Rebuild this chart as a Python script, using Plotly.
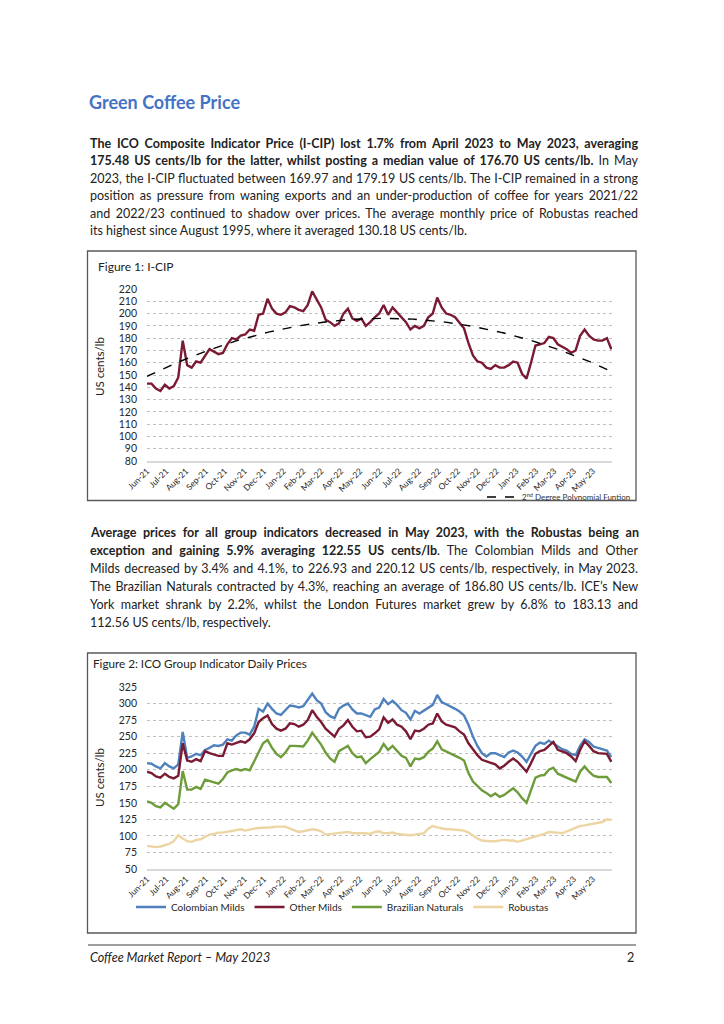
import numpy as np
import pandas as pd
import plotly.graph_objects as go

W, H = 724, 1024


def px(x):
    return x / W


def py(y):
    return 1 - y / H


# ---------------- data (weekly readings from the reference) ----------------
week_start = "2021-06-01"
n_weeks = 105
dates = pd.date_range(week_start, periods=n_weeks, freq="7D")

icip = [143, 143, 139, 137, 142, 139, 141, 148, 178, 158, 156, 161, 160, 166, 171,
        169, 167, 168, 175, 180, 179, 182, 183, 187, 186, 199, 200, 212, 204, 200,
        199, 201, 206, 205, 203, 202, 207, 218, 212, 205, 195, 193, 190, 192, 200,
        204, 196, 194, 196, 190, 193, 197, 200, 207, 199, 205, 201, 197, 193, 187,
        190, 188, 190, 197, 200, 213, 205, 200, 199, 197, 192, 188, 176, 166, 161,
        160, 156, 155, 158, 156, 156, 158, 161, 160, 151, 147, 160, 174, 175, 176,
        181, 180, 175, 173, 171, 168, 170, 182, 187, 182, 179, 178, 178, 180, 171]

colombian = [210, 209, 205, 202, 210, 205, 202, 208, 257, 218, 220, 224, 222, 230, 233,
             237, 236, 238, 246, 244, 252, 256, 256, 253, 265, 292, 288, 300, 292, 285,
             283, 290, 297, 296, 294, 296, 305, 315, 305, 300, 287, 281, 278, 292, 297,
             300, 291, 285, 285, 282, 280, 291, 294, 307, 299, 304, 298, 290, 286, 276,
             289, 285, 289, 294, 298, 313, 302, 299, 296, 292, 288, 282, 268, 250, 236,
             225, 220, 225, 225, 222, 219, 226, 229, 226, 220, 212, 224, 236, 241, 239,
             244, 240, 235, 231, 229, 224, 222, 236, 246, 242, 235, 233, 231, 229, 219]

other_milds = [197, 195, 190, 188, 194, 189, 187, 191, 240, 214, 212, 216, 213, 228, 225,
               223, 221, 221, 240, 238, 241, 243, 241, 246, 255, 272, 278, 282, 269, 262,
               259, 262, 270, 269, 265, 268, 275, 290, 280, 272, 262, 256, 250, 262, 267,
               275, 265, 258, 259, 249, 250, 255, 261, 279, 271, 276, 268, 265, 258, 246,
               259, 258, 262, 268, 270, 285, 273, 268, 266, 264, 258, 253, 240, 230, 222,
               215, 213, 211, 208, 202, 206, 212, 217, 212, 204, 197, 210, 224, 228, 230,
               236, 242, 230, 227, 225, 220, 213, 230, 243, 236, 228, 225, 224, 224, 212]

brazilian = [152, 150, 145, 143, 150, 145, 141, 148, 198, 170, 170, 174, 171, 185, 183,
             180, 179, 186, 196, 199, 201, 199, 201, 199, 213, 228, 240, 245, 233, 224,
             219, 226, 236, 236, 236, 235, 244, 256, 247, 238, 226, 217, 212, 228, 232,
             236, 225, 219, 220, 210, 216, 222, 227, 239, 230, 236, 228, 221, 218, 205,
             217, 216, 219, 227, 232, 243, 231, 228, 225, 222, 218, 214, 195, 182, 176,
             169, 165, 160, 164, 159, 162, 167, 172, 166, 157, 150, 168, 188, 191, 192,
             200, 203, 194, 191, 189, 185, 182, 197, 205, 197, 191, 189, 189, 189, 180]

robustas = [85, 84, 83, 84, 86, 88, 92, 101, 96, 92, 91, 94, 95, 99, 102,
            103, 105, 105, 106, 107, 108, 110, 108, 110, 111, 112, 112, 112, 113, 114,
            114, 114, 111, 109, 106, 107, 108, 110, 109, 107, 102, 103, 104, 105, 106,
            106, 104, 104, 105, 104, 103, 106, 107, 104, 104, 105, 103, 102, 101, 101,
            102, 103, 104, 111, 115, 113, 111, 110, 110, 109, 109, 108, 105, 100, 96,
            93, 92, 92, 92, 93, 94, 93, 93, 91, 93, 94, 96, 99, 100, 103,
            106, 106, 105, 104, 107, 109, 112, 115, 116, 117, 118, 120, 121, 125, 124]

group_names = ["Colombian Milds", "Other Milds", "Brazilian Naturals", "Robustas"]
group_values = [colombian, other_milds, brazilian, robustas]
group_colors = ["#4F81BD", "#7A1A33", "#6E9C3A", "#EDD5A3"]

month_ticks = pd.date_range("2021-06-01", "2023-05-01", freq="MS")
month_labels = [d.strftime("%b-%y") for d in month_ticks]

x_start, x_end = "2021-06-01", "2023-05-31"

# 2nd degree polynomial trend of the I-CIP (as in the original chart)
day_idx = np.array([(d - dates[0]).days for d in dates], dtype=float)
coef = np.polyfit(day_idx, np.array(icip, dtype=float), 2)
trend_dates = pd.date_range(x_start, x_end, freq="3D")
trend_days = np.array([(d - dates[0]).days for d in trend_dates], dtype=float)
trend_vals = np.polyval(coef, trend_days)

# ---------------- figure ----------------
BODY = "Lato"
CHART = "Lato"
TXT = "#222222"

fig = go.Figure()

fig.add_trace(go.Scatter(x=dates, y=icip, mode="lines", xaxis="x", yaxis="y",
                         line=dict(color="#7A1A33", width=2.4), showlegend=False,
                         name="I-CIP"))
fig.add_trace(go.Scatter(x=trend_dates, y=trend_vals, mode="lines", xaxis="x", yaxis="y",
                         line=dict(color="#000000", width=1.4, dash="dash"),
                         name="2<sup>nd</sup> Degree Polynomial Funtion",
                         legend="legend"))

for name, vals, col in zip(group_names, group_values, group_colors):
    fig.add_trace(go.Scatter(x=dates, y=vals, mode="lines", xaxis="x2", yaxis="y2",
                             line=dict(color=col, width=2.4), name=name,
                             legend="legend2"))

grid = dict(showgrid=True, gridcolor="#BFBFBF", griddash="dot", gridwidth=1,
            zeroline=False, ticks="", automargin=False, showline=False,
            tickfont=dict(family=CHART, size=10.5, color="#262626"),
            ticklabelstandoff=9)
xcommon = dict(range=[x_start, x_end], domain=[px(147), px(612)], showgrid=False,
               tickvals=month_ticks, ticktext=month_labels, tickangle=-45,
               tickfont=dict(family=CHART, size=8.5, color="#262626"),
               showline=True, linecolor="#D9D9D9", linewidth=1.5, ticks="",
               zeroline=False, automargin=False)

fig.update_layout(
    template="none",
    width=W, height=H, autosize=False,
    margin=dict(l=0, r=0, t=0, b=0, pad=0),
    paper_bgcolor="white", plot_bgcolor="white",
    font=dict(family=BODY, color=TXT),
    xaxis=dict(anchor="y", **xcommon),
    yaxis=dict(anchor="x", domain=[py(461), py(289)], range=[80, 220], dtick=10,
               tick0=80, **grid),
    xaxis2=dict(anchor="y2", **xcommon),
    yaxis2=dict(anchor="x2", domain=[py(869), py(687)], range=[50, 325], dtick=25,
                tick0=50, **grid),
    legend=dict(x=px(482), y=py(497), xanchor="left", yanchor="middle",
                font=dict(family=CHART, size=8, color="#333333"),
                bgcolor="rgba(0,0,0,0)", itemwidth=30),
    legend2=dict(orientation="h", x=px(131), y=py(907), xanchor="left", yanchor="middle",
                 font=dict(family=CHART, size=10, color="#262626"),
                 bgcolor="rgba(0,0,0,0)", itemwidth=30),
)

shapes = [
    dict(type="rect", xref="paper", yref="paper", x0=px(87.5), x1=px(636), y0=py(500.5),
         y1=py(251), line=dict(color="#595959", width=1.3)),
    dict(type="rect", xref="paper", yref="paper", x0=px(87.5), x1=px(636), y0=py(933),
         y1=py(653), line=dict(color="#595959", width=1.3)),
    dict(type="line", xref="paper", yref="paper", x0=px(88), x1=px(636), y0=py(945),
         y1=py(945), line=dict(color="#7F7F7F", width=1.5)),
]
fig.update_layout(shapes=shapes)

ann = []
justify_idx = []


def text(x, y, s, size=13, color=TXT, anchor="left", family=BODY, angle=0, justify=False):
    if justify:
        justify_idx.append(len(ann))
    ann.append(dict(x=px(x), y=py(y), xref="paper", yref="paper", text=s, showarrow=False,
                    xanchor=anchor, yanchor="middle", textangle=angle, align="left",
                    font=dict(family=family, size=size, color=color)))


text(87, 102, "<b>Green Coffee Price</b>", size=18, color="#4472C4")

para1 = [
    "<b>The ICO Composite Indicator Price (I-CIP) lost 1.7% from April 2023 to May 2023, averaging</b>",
    "<b>175.48 US cents/lb for the latter, whilst posting a median value of 176.70 US cents/lb.</b> In May",
    "2023, the I-CIP fluctuated between 169.97 and 179.19 US cents/lb. The I-CIP remained in a strong",
    "position as pressure from waning exports and an under-production of coffee for years 2021/22",
    "and 2022/23 continued to shadow over prices. The average monthly price of Robustas reached",
    "its highest since August 1995, where it averaged 130.18 US cents/lb.",
]
for i, line in enumerate(para1):
    text(88, 143 + i * 17.5, line, size=12.5, justify=(i < len(para1) - 1))

para2 = [
    "<b>Average prices for all group indicators decreased in May 2023, with the Robustas being an</b>",
    "<b>exception and gaining 5.9% averaging 122.55 US cents/lb</b>. The Colombian Milds and Other",
    "Milds decreased by 3.4% and 4.1%, to 226.93 and 220.12 US cents/lb, respectively, in May 2023.",
    "The Brazilian Naturals contracted by 4.3%, reaching an average of 186.80 US cents/lb. ICE\u2019s New",
    "York market shrank by 2.2%, whilst the London Futures market grew by 6.8% to 183.13 and",
    "112.56 US cents/lb, respectively.",
]
for i, line in enumerate(para2):
    text(88, 532 + i * 18, line, size=12.5, justify=(i < len(para2) - 1))

text(96, 266, "Figure 1: I-CIP", size=12, family=CHART)
text(91, 663, "Figure 2: ICO Group Indicator Daily Prices", size=11.7, family=CHART)
text(99, 367, "US cents/lb", size=11.5, family=CHART, anchor="center", angle=-90)
text(99, 778, "US cents/lb", size=11.5, family=CHART, anchor="center", angle=-90)

text(88, 957, "<i>Coffee Market Report \u2013 May 2023</i>", size=12.6)
text(636, 957, "2", size=12.6, anchor="right")

fig.update_layout(annotations=ann)

JUSTIFY_WIDTH = 548
post = """
document.body.style.margin='0';
document.body.style.overflow='hidden';
var gd = document.getElementById('{plot_id}');
var idx = %s;
idx.forEach(function(i){
  var t = gd.querySelector('g.annotation[data-index="' + i + '"] text.annotation-text');
  if (!t) return;
  var w = t.getComputedTextLength();
  var s = t.textContent;
  var n = (s.match(/ /g) || []).length;
  var d = %d - w;
  if (d >= 0) { t.style.wordSpacing = (d / n) + 'px'; }
  else { t.style.letterSpacing = (d / (s.length - 1)) + 'px'; }
});
""" % (str(justify_idx), JUSTIFY_WIDTH)

fig.write_html("out.html", config={"displayModeBar": False}, post_script=post)
